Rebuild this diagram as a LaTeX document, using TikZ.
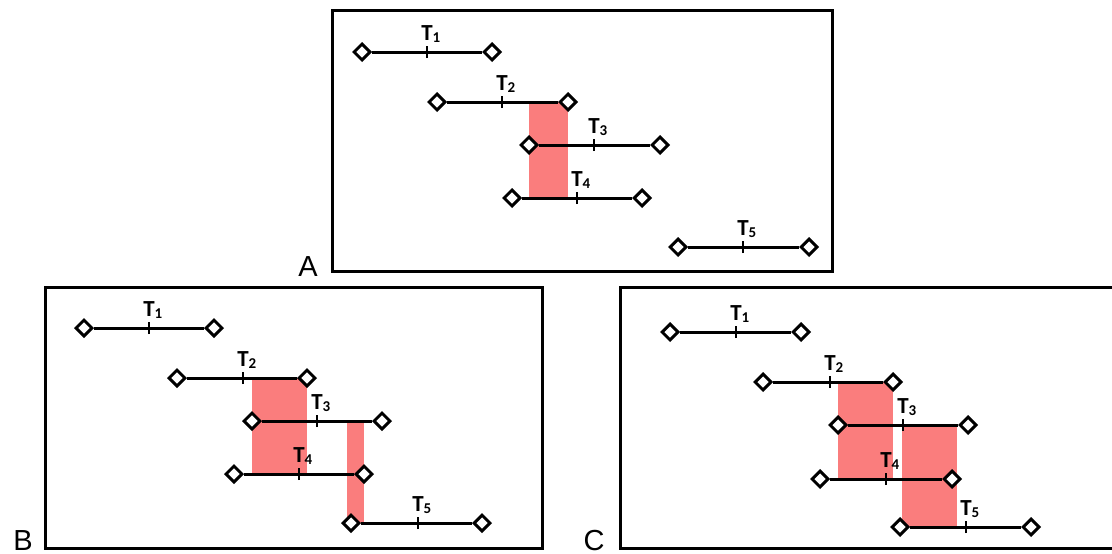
\documentclass[tikz,border=0pt]{standalone}
\usepackage{fontspec}
\setmainfont{Liberation Sans}
\newfontfamily\lblfont{Carlito}
\usetikzlibrary{shapes.geometric}
\definecolor{salmon}{RGB}{250,125,125}
\tikzset{
  dia/.style={diamond,draw=black,line width=3pt,fill=white,inner sep=0pt,minimum width=17pt,minimum height=17pt},
  tline/.style={draw=black,line width=3pt},
  tickline/.style={draw=black,line width=2.5pt},
  tlab/.style={font=\lblfont\bfseries\fontsize{23}{23}\selectfont,inner sep=0pt,anchor=base},
  frame/.style={draw=black,line width=3pt},
  plab/.style={font=\fontsize{29}{29}\selectfont,inner sep=0pt,anchor=base},
  overlap/.style={fill=salmon,draw=none}
}
\newcommand\mysubnum[1]{\raisebox{-2pt}{\fontsize{15}{15}\selectfont#1}}
\newcommand\task[6]{%
  \node[dia] (#1l) at (#2,#4) {};
  \node[dia] (#1r) at (#3,#4) {};
  \draw[tline] (#1l) -- (#1r);
  \coordinate (#1k) at (#5,#4);
  \draw[tickline] ([yshift=-6pt]#1k) -- ([yshift=6pt]#1k);
  \node[tlab] (#1t) at (#5,#4-12) {T\rlap{\mysubnum{#6}}};
}
\begin{document}
\begin{tikzpicture}[x=1pt,y=-1pt]
\useasboundingbox (0,0) rectangle (1112,554);
% frames
\draw[frame] (332,10) rectangle (832,271);
\draw[frame] (45,287) rectangle (542,548);
\draw[frame] (1115,287) -- (620,287) -- (620,548) -- (1115,548);
% panel labels
\node[plab] (labA) at (308,276) {A};
\node[plab] (labB) at (23,550) {B};
\node[plab] (labC) at (594,550) {C};
% overlaps
\fill[overlap] (529,102) rectangle (568,198);
\fill[overlap] (252,378) rectangle (307,474);
\fill[overlap] (347,421) rectangle (364,523);
\fill[overlap] (838,382) rectangle (893,479);
\fill[overlap] (902,425) rectangle (957,527);
% panel A
\task{a1}{362}{492}{52}{427}{1}
\task{a2}{437}{568}{102}{502}{2}
\task{a3}{529}{660}{145}{594}{3}
\task{a4}{512}{642}{198}{577}{4}
\task{a5}{678}{809}{247}{743}{5}
% panel B
\task{b1}{84}{214}{328}{149}{1}
\task{b2}{177}{307}{378}{243}{2}
\task{b3}{252}{382}{421}{317}{3}
\task{b4}{234}{364}{474}{299}{4}
\task{b5}{351}{482}{523}{418}{5}
% panel C
\task{c1}{670}{801}{332}{736}{1}
\task{c2}{763}{893}{382}{830}{2}
\task{c3}{838}{968}{425}{903}{3}
\task{c4}{820}{952}{479}{886}{4}
\task{c5}{900}{1031}{527}{966}{5}
\end{tikzpicture}
\end{document}
